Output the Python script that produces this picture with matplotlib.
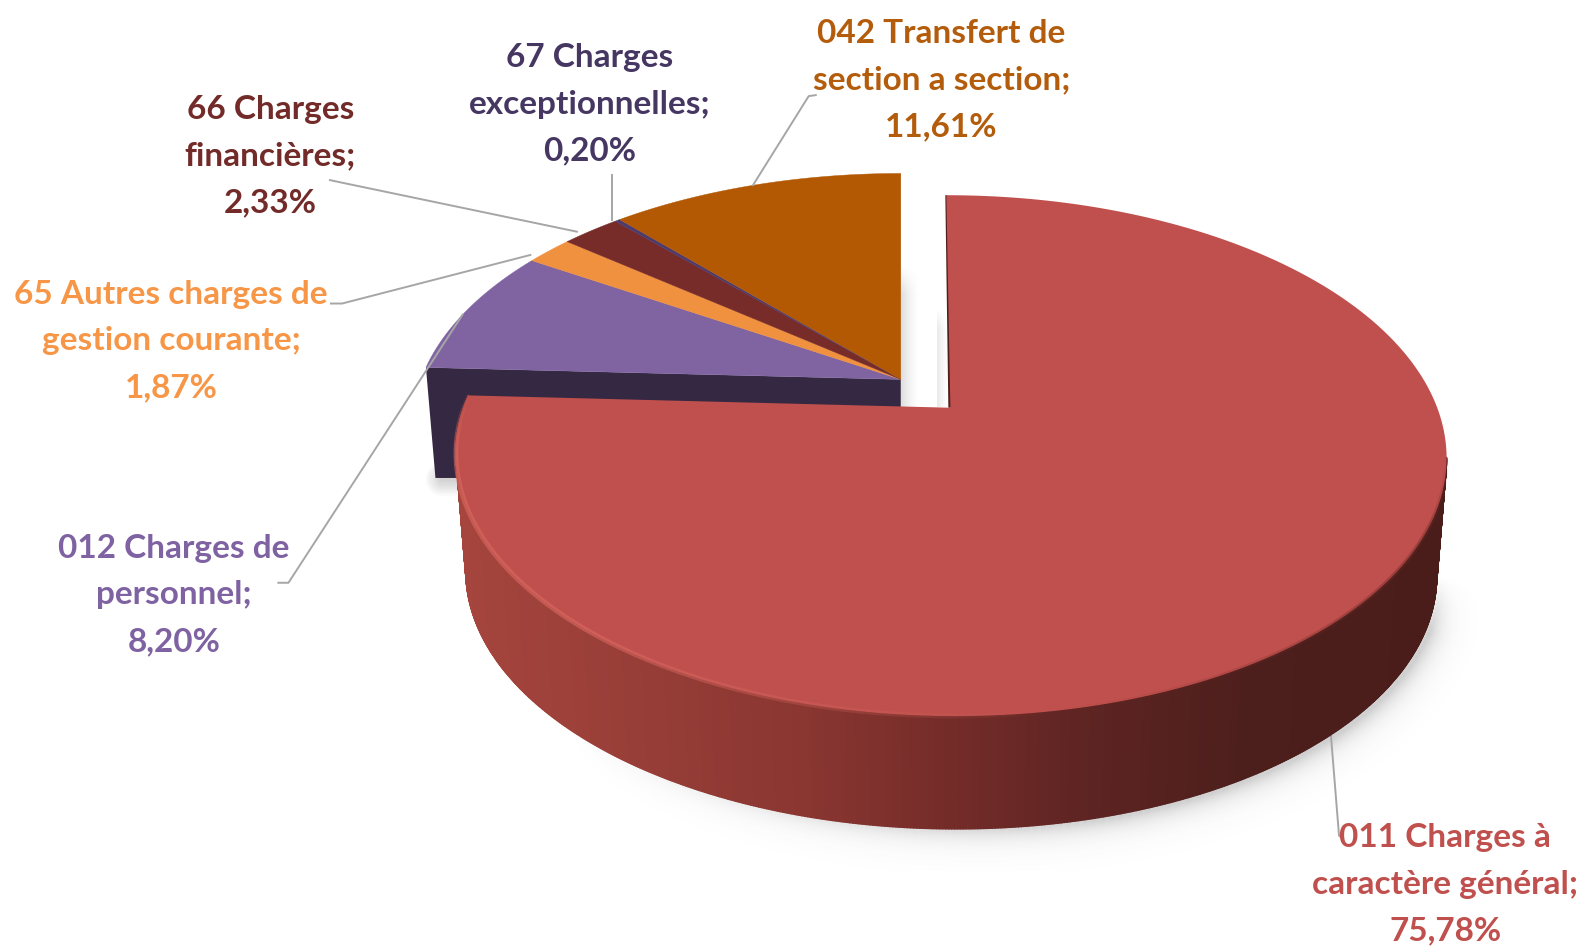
import numpy as np
import matplotlib
matplotlib.use('Agg')
import matplotlib.pyplot as plt
from matplotlib.collections import PolyCollection, LineCollection
from matplotlib.colors import LinearSegmentedColormap, to_rgb

# chart data
categories = ['011 Charges à\ncaractère général;', '012 Charges de\npersonnel;',
              '65 Autres charges de\ngestion courante;', '66 Charges\nfinancières;',
              '67 Charges\nexceptionnelles;', '042 Transfert de\nsection a section;']
values = [75.78, 8.20, 1.87, 2.33, 0.20, 11.61]

colors = ['#c0504d', '#8064a2', '#f0913f', '#772c2a', '#4d3b6e', '#b35803']
text_colors = ['#c0504d', '#7f62a2', '#f79646', '#722b29', '#453762', '#b35c0c']

# label centres and leader lines, in image pixels
label_pos = [(1428, 874), (172, 588), (169, 337), (267, 154), (583, 103), (930, 79)]
leaders = [[(1315, 727), (1323, 826), (1327, 829)],
           [(275, 576), (285, 576), (457, 311)],
           [(327, 300), (338, 300), (524, 252)],
           [(326, 178), (340, 181), (570, 229)],
           [(605, 173), (605, 217)],
           [(806, 94), (799, 95), (744, 183)]]

main_disc = dict(cx=939, cy=403, a=481, b=248.7, k=0.184, shear=0.019)
rest_disc = dict(cx=890, cy=375, a=474, b=241, k=0.184, shear=0.0)


def project(theta, disc, scale=1.0, drop=0.0):
    # theta in degrees clockwise from 12 o'clock, tilted disc seen in perspective
    t = np.radians(theta)
    u, v = np.sin(t), np.cos(t)
    w = 1 + disc['k'] * v
    x = disc['a'] * scale * u / w
    y = -disc['b'] * scale * v / w
    return disc['cx'] + x + disc['shear'] * y, disc['cy'] + drop + y


def wedge(start, end, disc):
    th = np.linspace(start, end, max(int(end - start) * 2, 4))
    x, y = project(th, disc)
    return np.r_[disc['cx'], x], np.r_[disc['cy'], y]


def soft_gap(ax, x0, x1, y0, y1, strength=0.2):
    # grey shadow fading to the right and towards the top
    ramp_x = np.linspace(1, 0, 40) ** 1.5
    ramp_y = np.clip(np.linspace(0, 1, 40) * 5, 0, 1)
    img = np.zeros((40, 40, 4))
    img[..., :3] = 0.35
    img[..., 3] = strength * np.outer(ramp_y, ramp_x)
    ax.imshow(img, extent=(x0, x1, y1, y0), aspect='auto', zorder=1, interpolation='bilinear')


def rim_shadow(ax, sx, sy, weight, spread=11.0, strength=0.3):
    # blurred shadow following a curve, raster on a coarse grid
    x0, x1, y0, y1 = sx.min() - 40, sx.max() + 40, sy.min() - 40, sy.max() + 40
    gx, gy = np.meshgrid(np.arange(x0, x1, 3.0), np.arange(y0, y1, 3.0))
    dist = np.hypot(gx[..., None] - sx, gy[..., None] - sy)
    near = dist.argmin(axis=-1)
    img = np.zeros(gx.shape + (4,))
    img[..., :3] = 0.3
    img[..., 3] = strength * np.exp(-dist.min(axis=-1) / spread) * weight[near]
    ax.imshow(img, extent=(x0, x1, y1, y0), aspect='auto', zorder=1, interpolation='bilinear')


fig = plt.figure(figsize=(15.87, 9.48), dpi=100)
ax = fig.add_axes([0, 0, 1, 1])

angles = np.cumsum([0] + values) / sum(values) * 360

# outline of the lower rim, used for side and shadow
side_th = np.linspace(101, angles[1], 600)
top_x, top_y = project(side_th, main_disc)
low_x, low_y = project(side_th, main_disc, scale=0.98, drop=117.6)

# shadow under the big slice, on the right and bottom only
shadow_th = np.linspace(101, 225, 260)
sx, sy = project(shadow_th, main_disc, scale=0.98, drop=117.6)
fade = np.clip((225 - shadow_th) / 60, 0, 1) * np.clip((shadow_th - 101) / 12, 0, 1)
rim_shadow(ax, sx + 3, sy + 2, fade)

# shadow in the gap and under the dark face
soft_gap(ax, 890, 908, 262, 402)
soft_gap(ax, 926, 937, 305, 402, strength=0.14)
rest_th = angles[1]
cx_low, cy_low = project(rest_th, rest_disc, scale=0.98, drop=109)
for lw in np.linspace(24, 3, 9):
    ax.plot([cx_low + 6, cx_low + 30], [cy_low + 1, cy_low + 1], color='#303030', lw=lw, alpha=0.022,
            zorder=1, solid_capstyle='round')

# cut face of the slices standing behind
cx_top, cy_top = project(rest_th, rest_disc)
ax.fill([rest_disc['cx'], cx_top, cx_low, rest_disc['cx']],
        [rest_disc['cy'], cy_top, cy_low, cy_low],
        color='#352842', lw=0, zorder=2)

for i in range(1, len(values)):
    wx, wy = wedge(angles[i], angles[i + 1], rest_disc)
    ax.fill(wx, wy, color=colors[i], lw=0.3, zorder=3)

# leader lines
for pts in leaders:
    xs, ys = zip(*pts)
    ax.plot(xs, ys, color='#a6a6a6', lw=1.4, zorder=4, solid_joinstyle='round')

# side of the big slice, shaded from left to right
side_cmap = LinearSegmentedColormap.from_list('side', [
    (0.0, '#a5453d'), (0.2, '#963d37'), (0.35, '#8a3631'), (0.5, '#742c29'),
    (0.65, '#5c2422'), (0.8, '#4d1f1c'), (1.0, '#4a1d1a')])
quads = [[(top_x[i], top_y[i]), (top_x[i + 1], top_y[i + 1]), (low_x[i + 1], low_y[i + 1]), (low_x[i], low_y[i])]
         for i in range(len(side_th) - 1)]
pos = (low_x[:-1] - low_x.min()) / (low_x.max() - low_x.min())
side_cols = side_cmap(pos)
ax.add_collection(PolyCollection(quads, facecolors=side_cols, edgecolors=side_cols, linewidths=1.0, zorder=5))

# thin dark edge along the vertical cut
tx, ty = project(0.0, main_disc)
ax.fill([tx - 1, main_disc['cx'] - 2, main_disc['cx'] + 1, tx + 1],
        [ty, main_disc['cy'], main_disc['cy'], ty], color='#4e1f1c', lw=0, zorder=6)

# top of the big slice
mx, my = wedge(angles[0], angles[1], main_disc)
ax.fill(mx, my, color=colors[0], lw=0, zorder=7)

# soft dark edge on the right, light rim on the left
rim_th = np.linspace(101, angles[1], 400)
rx, ry = project(rim_th, main_disc)
rim_segs = np.stack([np.c_[rx[:-1], ry[:-1]], np.c_[rx[1:], ry[1:]]], axis=1)
light = np.clip((rim_th[:-1] - 170) / 50, 0, 1) * np.clip((angles[1] - rim_th[:-1]) / 12, 0, 1)
rim_rgba = np.zeros((len(light), 4))
rim_rgba[:, :3] = to_rgb('#dc6a63')
rim_rgba[:, 3] = 0.6 * light
ax.add_collection(LineCollection(rim_segs, colors=rim_rgba, linewidths=3.5, zorder=8))
dark = np.clip((170 - rim_th[:-1]) / 40, 0, 1) * np.clip((rim_th[:-1] - 101) / 15, 0, 1)
dark_rgba = np.zeros((len(dark), 4))
dark_rgba[:, :3] = to_rgb('#6a2825')
dark_rgba[:, 3] = 0.4 * dark
ax.add_collection(LineCollection(rim_segs, colors=dark_rgba, linewidths=3, zorder=8))

# labels
for name, val, (lx, ly), col in zip(categories, values, label_pos, text_colors):
    pct = f'{val:.2f}'.replace('.', ',') + '%'
    ax.text(lx, ly, f'{name}\n{pct}', color=col, ha='center', va='center', family='Lato',
            fontweight='bold', fontsize=24, linespacing=1.73, zorder=9)

ax.set_xlim(0, 1568)
ax.set_ylim(937, 0)
ax.axis('off')
fig.savefig('out.png', dpi=100, facecolor='white')
